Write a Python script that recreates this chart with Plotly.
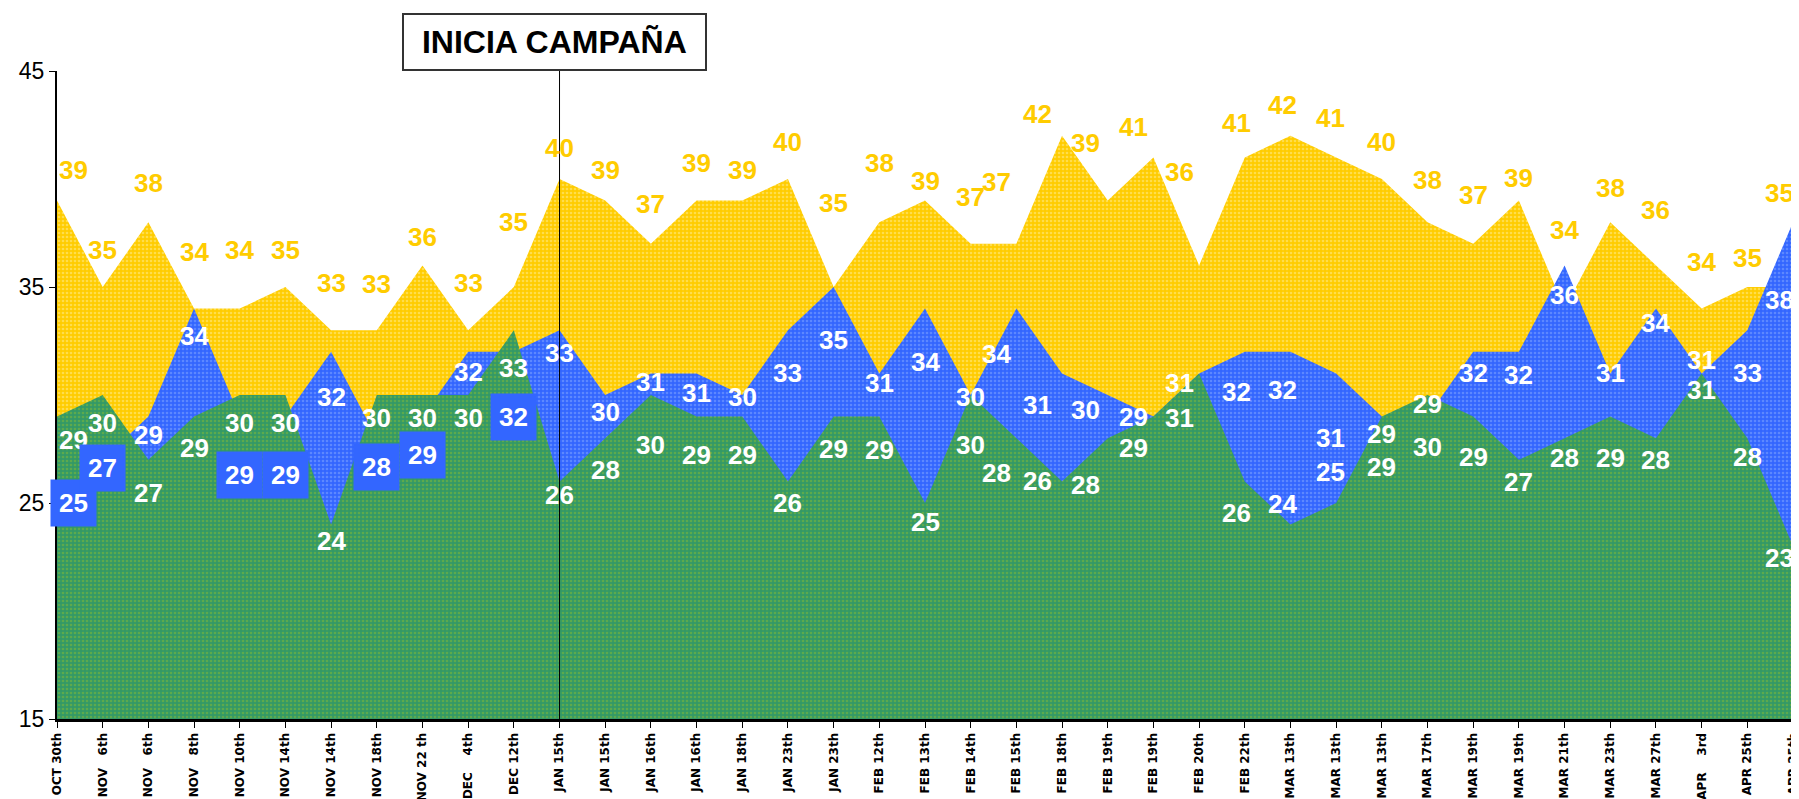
import plotly.graph_objects as go

NB = "\u00a0"
dates = ["OCT 30th", "NOV" + NB * 3 + "6th", "NOV" + NB * 3 + "6th", "NOV" + NB * 3 + "8th",
         "NOV 10th", "NOV 14th", "NOV 14th", "NOV 18th", "NOV 22 th", "DEC" + NB * 4 + "4th",
         "DEC 12th", "JAN 15th", "JAN 15th", "JAN 16th", "JAN 16th", "JAN 18th", "JAN 23th",
         "JAN 23th", "FEB 12th", "FEB 13th", "FEB 14th", "FEB 15th", "FEB 18th", "FEB 19th",
         "FEB 19th", "FEB 20th", "FEB 22th", "MAR 13th", "MAR 13th", "MAR 13th", "MAR 17th",
         "MAR 19th", "MAR 19th", "MAR 21th", "MAR 23th", "MAR 27th", "APR" + NB * 4 + "3rd",
         "APR 25th", "APR 25th"]

yellow = [39, 35, 38, 34, 34, 35, 33, 33, 36, 33, 35, 40, 39, 37, 39, 39, 40, 35, 38, 39,
          37, 37, 42, 39, 41, 36, 41, 42, 41, 40, 38, 37, 39, 34, 38, 36, 34, 35, 35]
blue = [25, 27, 29, 34, 29, 29, 32, 28, 29, 32, 32, 33, 30, 31, 31, 30, 33, 35, 31, 34,
        30, 34, 31, 30, 29, 31, 32, 32, 31, 29, 29, 32, 32, 36, 31, 34, 31, 33, 38]
green = [29, 30, 27, 29, 30, 30, 24, 30, 30, 30, 33, 26, 28, 30, 29, 29, 26, 29, 29, 25,
         30, 28, 26, 28, 29, 31, 26, 24, 25, 29, 30, 29, 27, 28, 29, 28, 31, 28, 23]

campaign_start = 11
campaign_text = "INICIA CAMPAÑA"

# label placement (pixel offsets from each value, layout only)
dy_yellow = [31, 37, 39, 57, 59, 37, 47, 46, 28, 47, 65, 31, 31, 40, 38, 31, 37, 84, 59, 20,
             47, 62, 22, 58, 30, 93, 34, 31, 39, 37, 42, 49, 23, 79, 34, 55, 47, 29, 94]
dy_blue = [0, -8, -18, -27, -58, -58, -45, -29, -38, -20, -65, -23, -17, -9, -20, -2, -43, -53,
           -10, -53, -2, -45, -32, -15, 0, -10, -40, -38, -65, -17, 13, -21, -23, -30, 0, -14,
           13, -43, -78]
dy_green = [-23, -28, -33, -31, -28, -28, -16, -23, -23, -23, -38, -14, -32, -50, -38, -38, -22,
            -32, -33, -19, -50, -35, 0, -47, -31, -45, -32, 21, 31, -50, -52, -40, -22, -20,
            -41, -22, -17, -19, -12]
dx_all = [16, 0, 0, 0, 0, 0, 0, 0, 0, 0, 0, 0, 0, 0, 0, 0, 0, 0, 0, 0,
          0, -20, -25, -22, -20, -20, -8, -8, -6, 0, 0, 0, 0, 0, 0, 0, 0, 0, -14]
boxed = [0, 1, 4, 5, 7, 8, 10]

x = list(range(len(dates)))

YEL = "#FFCC00"
BLU = "#3366FF"
GRN = "#339966"

fig = go.Figure()
for vals, col, dot in [(yellow, YEL, "#FFEE99"), (blue, BLU, "#88AAFF"), (green, GRN, "#88BB33")]:
    fig.add_trace(go.Scatter(
        x=x, y=vals, mode="lines", line=dict(width=0, color=col), fill="tozeroy",
        fillcolor=col,
        fillpattern=dict(shape=".", size=4, solidity=0.35, fgcolor=dot, bgcolor=col),
        hoverinfo="skip", showlegend=False))

lab_font = "Liberation Sans, Arial, sans-serif"
annotations = []
for i in x:
    annotations.append(dict(x=i, y=yellow[i], xref="x", yref="y", text="<b>%d</b>" % yellow[i],
                            showarrow=False, yshift=dy_yellow[i], xshift=dx_all[i],
                            font=dict(family=lab_font, size=26, color=YEL)))
    b = dict(x=i, y=blue[i], xref="x", yref="y", text="<b>%d</b>" % blue[i],
             showarrow=False, yshift=dy_blue[i], xshift=dx_all[i],
             font=dict(family=lab_font, size=26, color="white"))
    if i in boxed:
        b.update(bgcolor=BLU, borderpad=8)
    annotations.append(b)
    annotations.append(dict(x=i, y=green[i], xref="x", yref="y", text="<b>%d</b>" % green[i],
                            showarrow=False, yshift=dy_green[i], xshift=dx_all[i],
                            font=dict(family=lab_font, size=26, color="white")))

annotations.append(dict(x=campaign_start, y=1, xref="x", yref="paper", yanchor="bottom",
                        xshift=-5, text="<b>&nbsp;" + campaign_text + "&nbsp;</b>",
                        showarrow=False, bordercolor="#333333", borderwidth=2, borderpad=9,
                        bgcolor="white",
                        font=dict(family=lab_font, size=32, color="black")))

# page body has an 8px default margin; size the figure to compensate
fig.update_layout(
    width=1791, height=791,
    margin=dict(l=49, r=6, t=63, b=80, autoexpand=False),
    paper_bgcolor="white", plot_bgcolor="white",
    annotations=annotations,
    shapes=[dict(type="line", xref="x", yref="y", x0=campaign_start, x1=campaign_start,
                 y0=15, y1=45, line=dict(color="black", width=1))],
    xaxis=dict(range=[0, len(x) - 1], tickmode="array", tickvals=x, ticktext=dates,
               tickangle=-90, ticks="outside", ticklen=6, tickcolor="black", automargin=False,
               ticklabeloverflow="allow",
               showline=True, linecolor="black", linewidth=3, showgrid=False, zeroline=False,
               tickfont=dict(family="DejaVu Sans", size=12, color="black", weight="bold")),
    yaxis=dict(range=[15, 45], tickvals=[15, 25, 35, 45], ticks="outside", ticklen=6,
               tickcolor="black", showline=True, linecolor="black", linewidth=2,
               showgrid=False, zeroline=False, automargin=False,
               tickfont=dict(family=lab_font, size=23, color="black")),
)

fig.write_html("out.html")
